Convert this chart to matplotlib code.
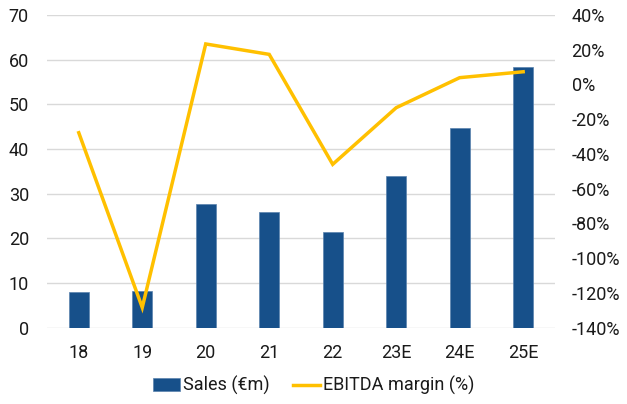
import matplotlib
matplotlib.use("Agg")
import matplotlib.pyplot as plt
import numpy as np

categories = ["18", "19", "20", "21", "22", "23E", "24E", "25E"]
sales = [7.9, 8.2, 27.6, 25.9, 21.3, 34.0, 44.8, 58.3]
ebitda_margin = [-27.8, -128.4, 23.3, 17.3, -46.0, -13.4, 3.9, 7.3]
left_ticks = [0, 10, 20, 30, 40, 50, 60, 70]
right_ticks = [-140, -120, -100, -80, -60, -40, -20, 0, 20, 40]

plt.rcParams['font.family'] = ['Roboto', 'DejaVu Sans']
BAR = '#17508A'
LINE = '#FFC000'
GRID = '#D9D9D9'
TXT = '#1a1a1a'

fig = plt.figure(figsize=(6.27, 4.04), dpi=100)
ax = fig.add_axes([0.075, 0.189, 0.81, 0.774])
x = np.arange(len(categories))
bars = ax.bar(x, sales, width=0.31, color=BAR, edgecolor='#5A82AE', linewidth=0.5, zorder=2, label='Sales (€m)')
ax.set_ylim(0, 70)
ax.set_yticks(left_ticks)
ax.set_xlim(-0.5, len(categories) - 0.5)
ax.set_xticks(x)
ax.set_xticklabels(categories)
ax.grid(axis='y', color=GRID, linewidth=1, zorder=0)
ax.set_axisbelow(True)
for s in ax.spines.values():
    s.set_visible(False)
ax.tick_params(axis='both', length=0, labelsize=13, colors=TXT)
ax.tick_params(axis='y', pad=13)
ax.tick_params(axis='x', pad=12)

ax2 = ax.twinx()
line, = ax2.plot(x, ebitda_margin, color=LINE, linewidth=2.5, zorder=3, label='EBITDA margin (%)', solid_joinstyle='miter')
ax2.set_ylim(-140, 40)
ax2.set_yticks(right_ticks)
ax2.set_yticklabels([f"{v}%" for v in right_ticks])
for s in ax2.spines.values():
    s.set_visible(False)
ax2.tick_params(axis='y', length=0, labelsize=13, colors=TXT, pad=12)

fig.legend([bars, line], ['Sales (€m)', 'EBITDA margin (%)'], loc='center', bbox_to_anchor=(0.5, 0.045),
           ncol=2, frameon=False, fontsize=13, handlelength=1.5, handleheight=0.75, handletextpad=0.15,
           columnspacing=1.3, labelcolor=TXT)

fig.savefig('out.png', dpi=100)
